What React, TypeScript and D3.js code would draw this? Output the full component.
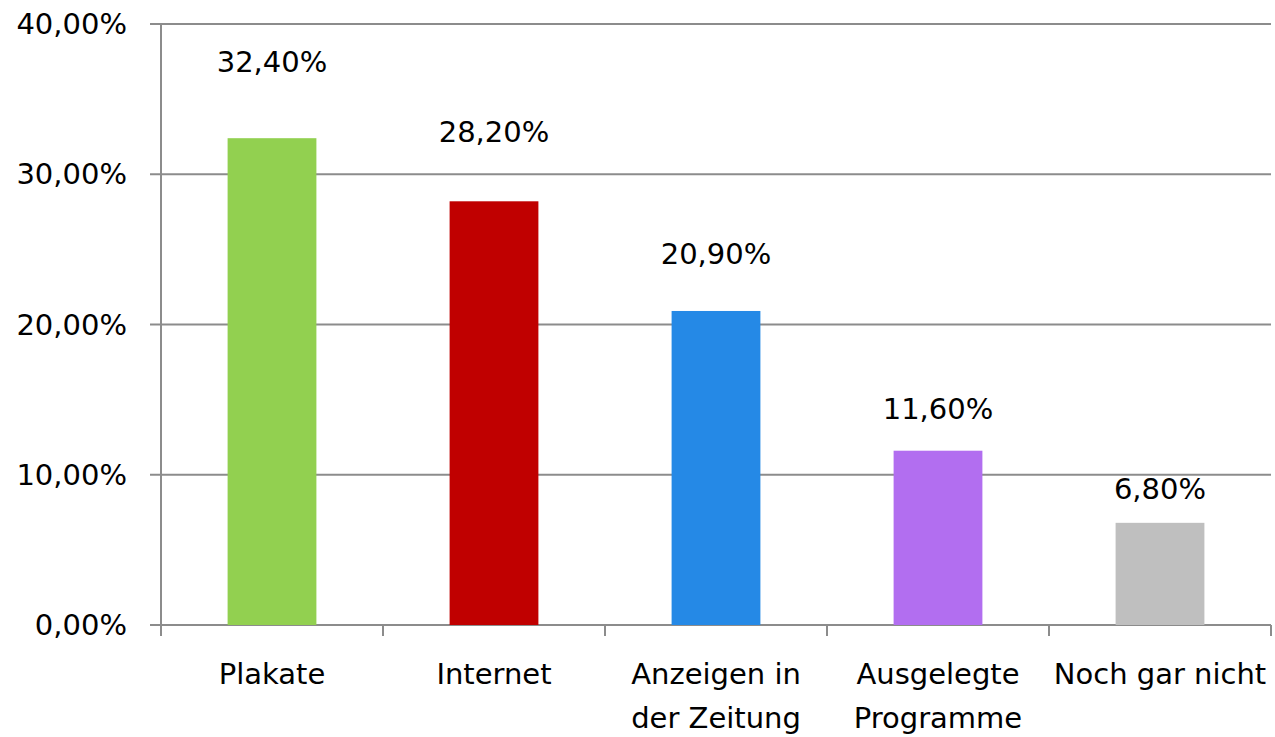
import { useEffect, useRef } from "react";
import * as d3 from "d3";

const categories = ["Plakate", "Internet", "Anzeigen in\nder Zeitung", "Ausgelegte\nProgramme", "Noch gar nicht"];
const values = [32.4, 28.2, 20.9, 11.6, 6.8];
const colors = ["#92d050", "#c00000", "#2589e6", "#b26ef0", "#bfbfbf"];
const yTicks = [0, 10, 20, 30, 40];

const fmt = (v: number) => v.toFixed(2).replace(".", ",") + "%";

export default function App() {
  const ref = useRef<SVGSVGElement>(null);

  useEffect(() => {
    const W = 1275;
    const H = 737;
    const left = 161;
    const right = 1271;
    const top = 24;
    const bottom = 625;
    const font = "DejaVu Sans";
    const fs = 29;
    const axisColor = "#8c8c8c";

    const svg = d3.select(ref.current);
    svg.selectAll("*").remove();
    svg.attr("width", W).attr("height", H);

    const x = d3.scaleBand<number>().domain(d3.range(categories.length)).range([left, right]).paddingInner(0.6).paddingOuter(0.3);
    const band = d3.scaleBand<number>().domain(d3.range(categories.length)).range([left, right]);
    const y = d3.scaleLinear().domain([0, 40]).range([bottom, top]);

    // Gitterlinien + linke Ticks
    svg
      .append("g")
      .selectAll("line")
      .data(yTicks)
      .enter()
      .append("line")
      .attr("x1", left - 11)
      .attr("x2", right)
      .attr("y1", (d) => y(d))
      .attr("y2", (d) => y(d))
      .attr("stroke", axisColor)
      .attr("stroke-width", 2);

    // Y-Achse
    svg
      .append("line")
      .attr("x1", left)
      .attr("x2", left)
      .attr("y1", y(40))
      .attr("y2", bottom + 11)
      .attr("stroke", axisColor)
      .attr("stroke-width", 2);

    // Ticks unten zwischen Kategorien
    const bounds = d3.range(categories.length + 1).map((i) => left + i * band.bandwidth());
    svg
      .append("g")
      .selectAll("line")
      .data(bounds)
      .enter()
      .append("line")
      .attr("x1", (d) => d)
      .attr("x2", (d) => d)
      .attr("y1", bottom)
      .attr("y2", bottom + 11)
      .attr("stroke", axisColor)
      .attr("stroke-width", 2);

    // Y-Beschriftung
    svg
      .append("g")
      .selectAll("text")
      .data(yTicks)
      .enter()
      .append("text")
      .attr("x", 127)
      .attr("y", (d) => y(d))
      .attr("dy", "0.35em")
      .attr("text-anchor", "end")
      .attr("font-family", font)
      .attr("font-size", fs)
      .attr("fill", "#000")
      .text((d) => fmt(d));

    // Balken
    svg
      .append("g")
      .selectAll("rect")
      .data(values)
      .enter()
      .append("rect")
      .attr("x", (_, i) => x(i)!)
      .attr("y", (d) => y(d))
      .attr("width", x.bandwidth())
      .attr("height", (d) => bottom - y(d))
      .attr("fill", (_, i) => colors[i]);

    // Wertbeschriftungen
    svg
      .append("g")
      .selectAll("text")
      .data(values)
      .enter()
      .append("text")
      .attr("x", (_, i) => x(i)! + x.bandwidth() / 2)
      .attr("y", (d) => y(d * 1.11 + 1.5))
      .attr("dy", "0.35em")
      .attr("text-anchor", "middle")
      .attr("font-family", font)
      .attr("font-size", fs)
      .attr("fill", "#000")
      .text((d) => fmt(d));

    // Kategorien
    const labels = svg
      .append("g")
      .selectAll("text")
      .data(categories)
      .enter()
      .append("text")
      .attr("x", (_, i) => x(i)! + x.bandwidth() / 2)
      .attr("y", 674)
      .attr("dy", "0.35em")
      .attr("text-anchor", "middle")
      .attr("font-family", font)
      .attr("font-size", fs)
      .attr("fill", "#000");
    labels.each(function (d) {
      const t = d3.select(this);
      d.split("\n").forEach((line, k) => {
        t.append("tspan")
          .attr("x", t.attr("x"))
          .attr("dy", k === 0 ? "0.35em" : 44)
          .text(line);
      });
    });
  }, []);

  return <svg ref={ref} style={{ position: "absolute", left: 0, top: 0, background: "#fff" }} />;
}
